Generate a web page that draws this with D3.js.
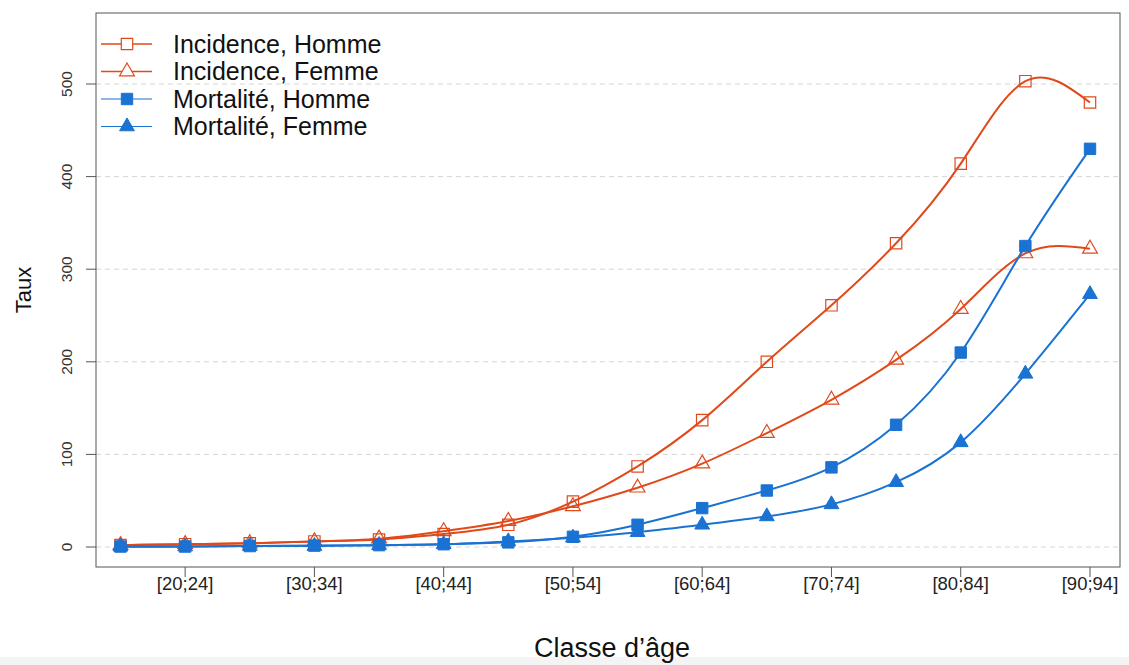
<!DOCTYPE html>
<html>
<head>
<meta charset="utf-8">
<script src="https://cdn.jsdelivr.net/npm/d3@7"></script>
<style>
  body { margin:0; background:#fff; }
  svg { font-family:"Liberation Sans", Helvetica, Arial, sans-serif; }
</style>
</head>
<body>
<div id="chart"></div>
<script>
// age classes, one per 5 years
var ages = ['[15;19]','[20;24]','[25;29]','[30;34]','[35;39]','[40;44]','[45;49]','[50;54]',
            '[55;59]','[60;64]','[65;69]','[70;74]','[75;79]','[80;84]','[85;89]','[90;94]']
var tickAges = ['[20;24]','[30;34]','[40;44]','[50;54]','[60;64]','[70;74]','[80;84]','[90;94]']
var yTicks = [0, 100, 200, 300, 400, 500]

var incHomme = [2, 3, 4, 6, 8, 14, 24, 49, 87, 137, 200, 261, 328, 414, 503, 480]
var incFemme = [2, 3, 4, 6, 9, 17, 28, 44, 64, 90, 123, 159, 202, 257, 317, 322]
var morHomme = [0.5, 0.5, 1, 1.5, 2, 3, 5, 11, 24, 42, 61, 86, 132, 210, 325, 430]
var morFemme = [0.3, 0.5, 1, 1, 2, 3, 6, 10, 16, 24, 33, 46, 70, 113, 187, 273]

var orange = '#e04a1b'
var blue = '#1a72d2'

var series = [
    { name:'Incidence, Homme', values:incHomme, color:orange, shape:'square', filled:false },
    { name:'Incidence, Femme', values:incFemme, color:orange, shape:'triangle', filled:false },
    { name:'Mortalité, Homme', values:morHomme, color:blue, shape:'square', filled:true },
    { name:'Mortalité, Femme', values:morFemme, color:blue, shape:'triangle', filled:true }
]

var W = 1129, H = 665
var box = { left:96, right:1120, top:13, bottom:567 }

var x = d3.scaleLinear().domain([0, ages.length - 1]).range([120.5, 1090])
var y = d3.scaleLinear().domain([0, 500]).range([547, 84])

var svg = d3.select('#chart').append('svg')
    .attr('width', W).attr('height', H)

// light band at the very bottom of the picture
svg.append('rect').attr('x', 0).attr('y', 657).attr('width', W).attr('height', H - 657)
    .attr('fill', '#f4f4f4')

// grid
svg.append('g').selectAll('line')
    .data(yTicks)
  .enter().append('line')
    .attr('x1', box.left).attr('x2', box.right)
    .attr('y1', d=> y(d)).attr('y2', d=> y(d))
    .attr('stroke', '#d6d6d6').attr('stroke-width', 1)
    .attr('stroke-dasharray', '5,4')

// symbols
function sym(shape) {
    return shape == 'square'
        ? d3.symbol().type(d3.symbolSquare).size(130)()
        : d3.symbol().type(d3.symbolTriangle).size(95)()
}

var line = d3.line()
    .x((d, i)=> x(i))
    .y(d=> y(d))
    .curve(d3.curveNatural)

var g = svg.append('g')
series.forEach(s=> {
    g.append('path')
        .attr('d', line(s.values))
        .attr('fill', 'none')
        .attr('stroke', s.color)
        .attr('stroke-width', 2)
    g.selectAll(null)
        .data(s.values)
      .enter().append('path')
        .attr('transform', (d, i)=> 'translate(' + x(i) + ',' + y(d) + ')')
        .attr('d', sym(s.shape))
        .attr('fill', s.filled ? s.color : 'none')
        .attr('stroke', s.color)
        .attr('stroke-width', s.filled ? 1 : 1.2)
})

// box
svg.append('rect')
    .attr('x', box.left).attr('y', box.top)
    .attr('width', box.right - box.left).attr('height', box.bottom - box.top)
    .attr('fill', 'none').attr('stroke', '#555').attr('stroke-width', 1)

// y axis
var ya = svg.append('g')
ya.selectAll('line')
    .data(yTicks)
  .enter().append('line')
    .attr('x1', box.left - 10).attr('x2', box.left)
    .attr('y1', d=> y(d)).attr('y2', d=> y(d))
    .attr('stroke', '#555')
ya.selectAll('text')
    .data(yTicks)
  .enter().append('text')
    .attr('transform', d=> 'translate(72,' + y(d) + ') rotate(-90)')
    .attr('text-anchor', 'middle')
    .attr('font-size', 15.5)
    .attr('fill', '#333')
    .text(d=> d)

// x axis
var xa = svg.append('g')
xa.selectAll('line')
    .data(tickAges)
  .enter().append('line')
    .attr('x1', d=> x(ages.indexOf(d))).attr('x2', d=> x(ages.indexOf(d)))
    .attr('y1', box.bottom).attr('y2', box.bottom + 10)
    .attr('stroke', '#555')
xa.selectAll('text')
    .data(tickAges)
  .enter().append('text')
    .attr('x', d=> x(ages.indexOf(d)))
    .attr('y', 590)
    .attr('text-anchor', 'middle')
    .attr('font-size', 18.5)
    .attr('fill', '#222')
    .text(d=> d)

// titles
svg.append('text')
    .attr('x', 612).attr('y', 657)
    .attr('text-anchor', 'middle')
    .attr('font-size', 27)
    .attr('fill', '#111')
    .text('Classe d’âge')
svg.append('text')
    .attr('transform', 'translate(31,290) rotate(-90)')
    .attr('text-anchor', 'middle')
    .attr('font-size', 22)
    .attr('fill', '#111')
    .text('Taux')

// legend
var lg = svg.append('g')
series.forEach((s, i)=> {
    var ly = 44 + i * 27.5
    lg.append('line')
        .attr('x1', 101).attr('x2', 152)
        .attr('y1', ly).attr('y2', ly)
        .attr('stroke', s.color).attr('stroke-width', s.filled ? 1.2 : 1.6)
    lg.append('path')
        .attr('transform', 'translate(127,' + ly + ')')
        .attr('d', sym(s.shape))
        .attr('fill', s.filled ? s.color : '#fff')
        .attr('stroke', s.color)
        .attr('stroke-width', s.filled ? 1 : 1.2)
    lg.append('text')
        .attr('x', 173).attr('y', ly + 8.5)
        .attr('font-size', 25)
        .attr('fill', '#111')
        .text(s.name)
})
</script>
</body>
</html>
